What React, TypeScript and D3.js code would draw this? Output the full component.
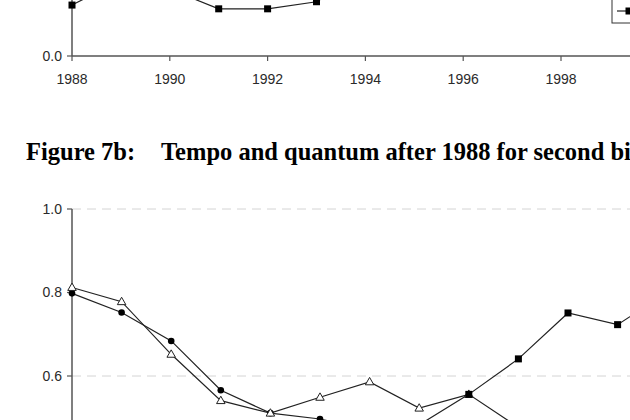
import React from 'react';
import * as d3 from 'd3';

// ---- Figure 7a (bottom part visible) ----
const topYears = [1988, 1989, 1990, 1991, 1992, 1993, 1994];
const topSquares = [0.122, 0.182, 0.16, 0.113, 0.113, 0.13, 0.2];
const topXTicks = [1988, 1990, 1992, 1994, 1996, 1998];
const topYTicks = [0.0];

// ---- Figure 7b ----
const captionLabel = 'Figure 7b:';
const captionTitle = 'Tempo and quantum after 1988 for second births';
const circleYears = [1988, 1989, 1990, 1991, 1992, 1993, 1994, 1995];
const circleValues = [0.798, 0.752, 0.684, 0.566, 0.511, 0.497, 0.47, 0.46];
const triangleYears = [1988, 1989, 1990, 1991, 1992, 1993, 1994, 1995, 1996, 1997, 1998];
const triangleValues = [0.812, 0.778, 0.652, 0.541, 0.511, 0.549, 0.586, 0.523, 0.556, 0.477, 0.44];
const squareYears = [1995, 1996, 1997, 1998, 1999, 2000];
const squareValues = [0.483, 0.556, 0.641, 0.751, 0.723, 0.8];
const bottomYTicks = [1.0, 0.8, 0.6];
const bottomGrid = [1.0, 0.6, 0.2];

const W = 630;
const H = 420;
const FONT = '"Liberation Sans", Arial, sans-serif';
const INK = '#222';
const AXIS = '#555';
const SERIF = '"Liberation Serif", "Times New Roman", serif';

export default function App() {
  // top chart scales
  const xTop = d3.scaleLinear().domain([1988, 2000]).range([72, 72 + 12 * 48.9]);
  const yTop = d3.scaleLinear().domain([0, 1]).range([56, 56 - 417.5]);
  // bottom chart scales
  const xBot = d3.scaleLinear().domain([1988, 2000]).range([72, 72 + 12 * 49.6]);
  const yBot = d3.scaleLinear().domain([0, 1]).range([209 + 417.5, 209]);

  const topLine = d3
    .line<number>()
    .x((_, i) => xTop(topYears[i]))
    .y((d) => yTop(d));
  const mkLine = (yrs: number[]) =>
    d3
      .line<number>()
      .x((_, i) => xBot(yrs[i]))
      .y((d) => yBot(d));

  const sq = 7;
  const tri = (cx: number, cy: number) => {
    const s = 8.5;
    const h = s * 0.87;
    return `M${cx},${cy - h * 0.6}L${cx + s / 2},${cy + h * 0.4}L${cx - s / 2},${cy + h * 0.4}Z`;
  };

  return (
    <div style={{ position: 'absolute', left: 0, top: 0, width: W, height: H, background: '#fff' }}>
      <svg width={W} height={H} viewBox={`0 0 ${W} ${H}`} style={{ display: 'block' }}>
        <rect x={0} y={0} width={W} height={H} fill="#fff" />

        {/* ===== Top chart (7a) ===== */}
        <line x1={72} x2={72} y1={0} y2={56} stroke={AXIS} strokeWidth={1.5} />
        <line x1={72} x2={W} y1={56} y2={56} stroke={AXIS} strokeWidth={1.5} />
        {topYTicks.map((t) => (
          <g key={'tyt' + t}>
            <line x1={67} x2={72} y1={yTop(t)} y2={yTop(t)} stroke={AXIS} strokeWidth={1.2} />
            <text x={62} y={yTop(t)} dy="0.35em" textAnchor="end" fontFamily={FONT} fontSize={14} fill="#2a2a2a">
              {t.toFixed(1)}
            </text>
          </g>
        ))}
        {topXTicks.map((t) => (
          <g key={'txt' + t}>
            <line x1={xTop(t)} x2={xTop(t)} y1={56} y2={61} stroke={AXIS} strokeWidth={1.2} />
            <text x={xTop(t)} y={84} textAnchor="middle" fontFamily={FONT} fontSize={14} fill="#2a2a2a">
              {t}
            </text>
          </g>
        ))}
        <path d={topLine(topSquares) || ''} fill="none" stroke={INK} strokeWidth={1.2} />
        {topSquares.map((v, i) => (
          <rect key={'ts' + i} x={xTop(topYears[i]) - sq / 2} y={yTop(v) - sq / 2} width={sq} height={sq} fill="#000" />
        ))}
        {/* partial legend */}
        <rect x={612} y={-20} width={60} height={43} fill="#fff" stroke="#333" strokeWidth={1} />
        <line x1={617} x2={645} y1={11} y2={11} stroke={INK} strokeWidth={1.2} />
        <rect x={629 - sq / 2} y={11 - sq / 2} width={sq} height={sq} fill="#000" />

        {/* ===== Caption ===== */}
        <text x={26} y={160} fontFamily={SERIF} fontWeight="bold" fontSize={24.5} fill="#000">
          {captionLabel}
        </text>
        <text x={161} y={160} fontFamily={SERIF} fontWeight="bold" fontSize={24.5} fill="#000">
          {captionTitle}
        </text>

        {/* ===== Bottom chart (7b) ===== */}
        {bottomGrid.map((g) => (
          <line key={'g' + g} x1={72} x2={W} y1={yBot(g)} y2={yBot(g)} stroke="#d4d4d4" strokeWidth={1} strokeDasharray="9,6" />
        ))}
        <line x1={72} x2={72} y1={yBot(1.0)} y2={H} stroke={AXIS} strokeWidth={1.5} />
        {bottomYTicks.map((t) => (
          <g key={'byt' + t}>
            <line x1={67} x2={72} y1={yBot(t)} y2={yBot(t)} stroke={AXIS} strokeWidth={1.2} />
            <text x={62} y={yBot(t)} dy="0.35em" textAnchor="end" fontFamily={FONT} fontSize={14} fill="#2a2a2a">
              {t.toFixed(1)}
            </text>
          </g>
        ))}

        <path d={mkLine(circleYears)(circleValues) || ''} fill="none" stroke={INK} strokeWidth={1.2} />
        <path d={mkLine(triangleYears)(triangleValues) || ''} fill="none" stroke={INK} strokeWidth={1.2} />
        <path d={mkLine(squareYears)(squareValues) || ''} fill="none" stroke={INK} strokeWidth={1.2} />

        {circleValues.map((v, i) => (
          <circle key={'c' + i} cx={xBot(circleYears[i])} cy={yBot(v)} r={3.3} fill="#000" />
        ))}
        {triangleValues.map((v, i) => (
          <path key={'t' + i} d={tri(xBot(triangleYears[i]), yBot(v))} fill="#fff" stroke={INK} strokeWidth={1} />
        ))}
        {squareValues.map((v, i) => (
          <rect key={'s' + i} x={xBot(squareYears[i]) - sq / 2} y={yBot(v) - sq / 2} width={sq} height={sq} fill="#000" />
        ))}
      </svg>
    </div>
  );
}
